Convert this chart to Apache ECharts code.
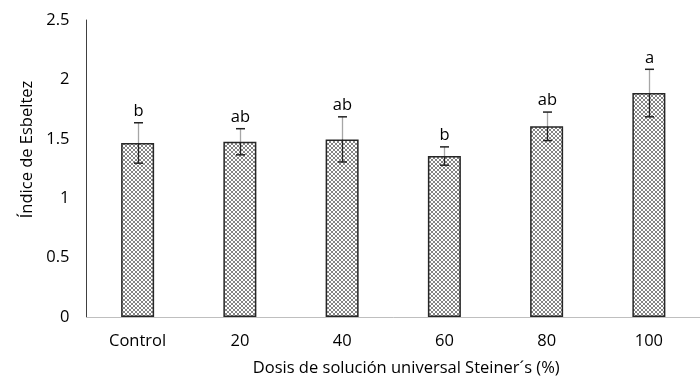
<!DOCTYPE html>
<html><head><meta charset="utf-8">
<script src="https://cdn.jsdelivr.net/npm/echarts@6/dist/echarts.min.js"></script>
<style>html,body{margin:0;padding:0;background:#fff}#c{width:700px;height:385px}</style>
</head><body><div id="c"></div>
<script>
const categories = ['Control', '20', '40', '60', '80', '100'];
const means = [1.465, 1.475, 1.495, 1.355, 1.605, 1.885];
const errors = [0.17, 0.11, 0.19, 0.077, 0.12, 0.20];
const letters = ['b', 'ab', 'ab', 'b', 'ab', 'a'];
const yTicks = [0, 0.5, 1, 1.5, 2, 2.5];

const pc = document.createElement('canvas');
pc.width = 4; pc.height = 4;
const pctx = pc.getContext('2d');
pctx.fillStyle = '#fff'; pctx.fillRect(0,0,4,4);
pctx.fillStyle = '#858585';
[[0,0],[1,1],[2,2],[3,3],[3,0],[2,1],[1,2],[0,3]].forEach(p=>pctx.fillRect(p[0],p[1],1,1));

const font = '"Open Sans", "Liberation Sans", sans-serif';
const fs = 16.5;
const chart = echarts.init(document.getElementById('c'));
const errData = categories.map((c,i)=>[i, means[i], means[i]-errors[i], means[i]+errors[i], letters[i]]);
chart.setOption({
  animation:false,
  grid:{left:86.5, top:20, width:625, bottom:68},
  xAxis:{type:'category', data:categories, boundaryGap:true,
    axisLine:{lineStyle:{color:'#bfbfbf', width:1}}, axisTick:{show:false},
    axisLabel:{color:'#000', fontSize:fs, fontFamily:font, margin:16},
    name:'Dosis de solución universal Steiner´s (%)', nameLocation:'middle', nameGap:43,
    nameTextStyle:{color:'#000', fontSize:fs, fontFamily:font, padding:[0,0,0,26]}},
  yAxis:{type:'value', min:0, max:2.5, interval:0.5,
    axisLine:{show:true, lineStyle:{color:'#404040', width:1}}, axisTick:{show:false},
    splitLine:{show:false},
    axisLabel:{color:'#000', fontSize:fs, fontFamily:font, margin:17, formatter:v=>String(v)},
    name:'Índice de Esbeltez', nameLocation:'middle', nameGap:48,
    nameTextStyle:{color:'#000', fontSize:fs, fontFamily:font, padding:[0,0,0,38]}},
  series:[
    {type:'bar', data:means, barWidth:33,
     itemStyle:{color:{image:pc, repeat:'repeat'}, borderColor:'#262626', borderWidth:1.5}},
    {type:'custom', data:errData, z:10,
     renderItem:function(params, api){
       const x = api.coord([api.value(0), api.value(1)]);
       const lo = api.coord([api.value(0), api.value(2)]);
       const hi = api.coord([api.value(0), api.value(3)]);
       const cx = Math.round(x[0]) + 0.5;
       const hw = 4.5;
       return {type:'group', children:[
         {type:'line', shape:{x1:cx, y1:hi[1], x2:cx, y2:x[1]}, style:{stroke:'#a6a6a6', lineWidth:1.3}},
         {type:'line', shape:{x1:cx, y1:x[1], x2:cx, y2:lo[1]}, style:{stroke:'#222', lineWidth:1.3}},
         {type:'line', shape:{x1:cx-hw, y1:hi[1], x2:cx+hw, y2:hi[1]}, style:{stroke:'#222', lineWidth:1.5}},
         {type:'line', shape:{x1:cx-hw, y1:lo[1], x2:cx+hw, y2:lo[1]}, style:{stroke:'#222', lineWidth:1.5}},
         {type:'text', style:{text:api.value(4), x:cx, y:hi[1]-3, textAlign:'center', textVerticalAlign:'bottom',
           fill:'#000', fontSize:fs, fontFamily:font}}
       ]};
     }}
  ]
});
</script></body></html>
